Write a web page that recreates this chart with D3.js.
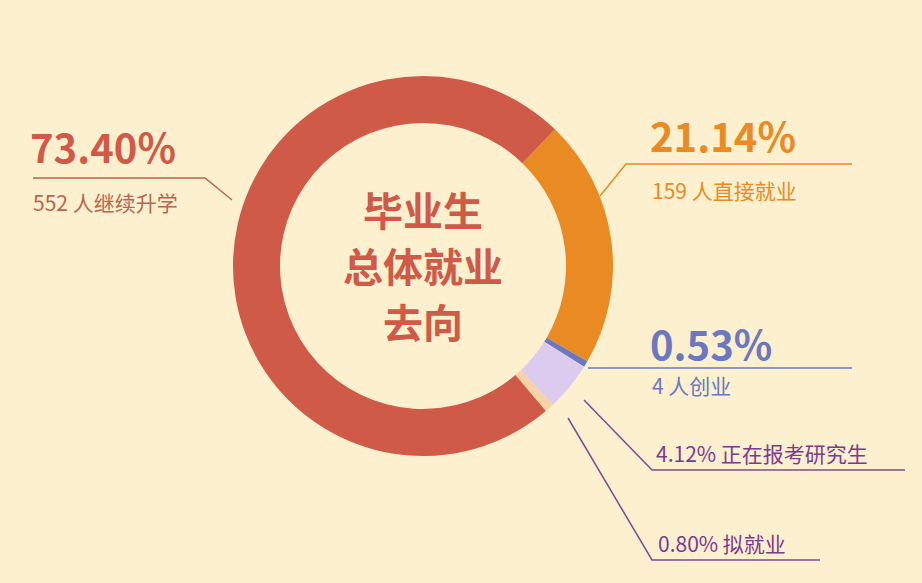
<!DOCTYPE html><html><head><meta charset="utf-8"><script src="https://cdn.jsdelivr.net/npm/d3@7"></script>
<style>body{margin:0;background:#fdf0cf}</style></head><body><svg id="c" width="922" height="583"></svg>
<script>
const labels=["直接就业","创业","正在报考研究生","拟就业","继续升学"];
const values=[21.14,0.53,4.12,0.80,73.40];
const colors=["#e98a22","#6b78c0","#dccbee","#f6d3a6","#cf5a48"];
const svg=d3.select("#c");
svg.append("rect").attr("width",922).attr("height",583).attr("fill","#fdf0cf");
const g=svg.append("g").attr("transform","translate(423,266)");
const startA=44*Math.PI/180;
const pie=d3.pie().sort(null).value(d=>d).startAngle(startA).endAngle(startA+2*Math.PI);
const arc=d3.arc().innerRadius(143).outerRadius(190);
g.selectAll("path").data(pie(values)).join("path").attr("d",arc).attr("fill",(d,i)=>colors[i]);
const F="'Noto Sans CJK SC','Noto Sans',sans-serif";
["毕业生","总体就业","去向"].forEach((t,i)=>svg.append("text").attr("x",423).attr("y",226+i*56).attr("text-anchor","middle").attr("font-family",F).attr("font-weight","bold").attr("font-size",40).attr("fill","#cf5a48").text(t));
function line(pts,c){svg.append("polyline").attr("points",pts.map(p=>p.join(",")).join(" ")).attr("fill","none").attr("stroke",c).attr("stroke-width",1.5);}
function txt(x,y,s,fs,c,w){svg.append("text").attr("x",x).attr("y",y).attr("font-family",F).attr("font-size",fs).attr("font-weight",w||"normal").attr("fill",c).text(s);}
line([[33,178],[205,178],[232,200]],"#b8644f");
txt(30,163,"73.40%",40,"#cf5a48","bold");
txt(33,211,"552 人继续升学",21,"#b8644f");
line([[600,196],[626,164],[852,164]],"#e98a22");
txt(650,152,"21.14%",40,"#e98a22","bold");
txt(652,199,"159 人直接就业",21,"#e98a22");
line([[588,368],[852,368]],"#6b78c0");
txt(650,360,"0.53%",40,"#6b78c0","bold");
txt(652,394,"4 人创业",21,"#6b78c0");
line([[584,400],[652,470],[905,470]],"#7d4a95");
txt(656,462,"4.12%  正在报考研究生",21,"#7b3a8f");
line([[568,418],[652,560],[820,560]],"#7d4a95");
txt(658,552,"0.80%  拟就业",21,"#7b3a8f");
</script></body></html>
